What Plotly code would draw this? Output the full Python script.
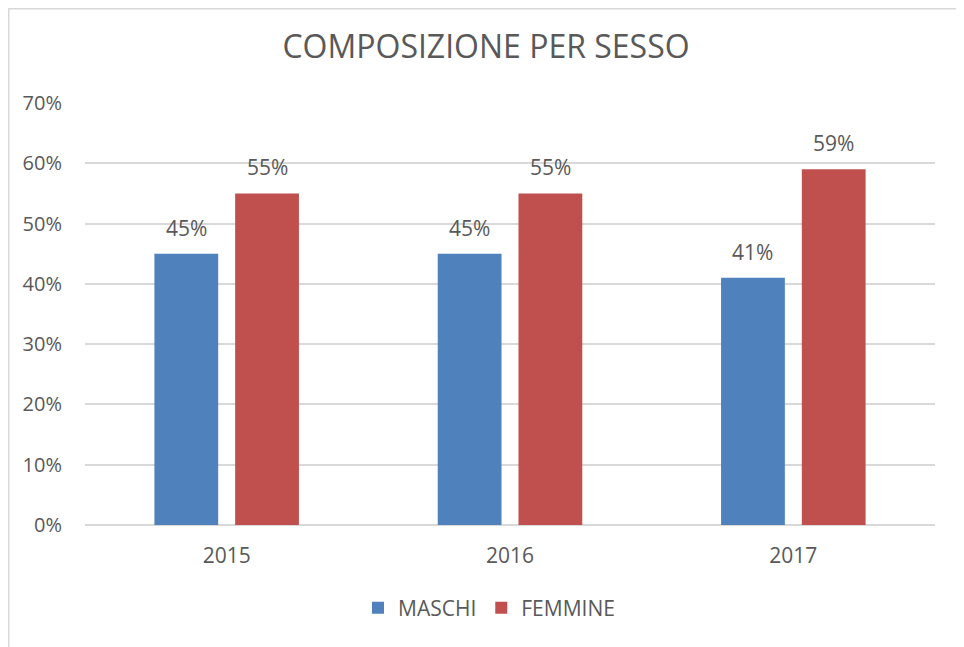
import plotly.graph_objects as go

years = ["2015", "2016", "2017"]
maschi = [0.45, 0.45, 0.41]
femmine = [0.55, 0.55, 0.59]
series_names = ["MASCHI", "FEMMINE"]
series_colors = ["#4F81BD", "#C0504D"]
tick_vals = [0, 0.1, 0.2, 0.3, 0.4, 0.5, 0.6, 0.7]
tick_text = ["0%", "10%", "20%", "30%", "40%", "50%", "60%", "70%"]

font_family = "Open Sans, Liberation Sans, sans-serif"
txt = "#595959"

W, H = 956, 639
ML, MR, MT, MB = 77, 29, 95, 122
PW, PH = W - ML - MR, H - MT - MB
BARGAP, BARGROUPGAP = 0.43, 0.21

fig = go.Figure()
for name, vals, col in zip(series_names, [maschi, femmine], series_colors):
    fig.add_trace(go.Bar(name=name, x=years, y=vals, marker_color=col,
                         marker_line_width=0))

# data labels as annotations (offset per group slot)
cat_px = PW / len(years)
slot_px = cat_px * (1 - BARGAP) / 2
annotations = []
for i, vals in enumerate([maschi, femmine]):
    for ci, v in enumerate(vals):
        annotations.append(dict(x=ci, y=v, xref="x", yref="y", text=f"{v*100:.0f}%",
                                showarrow=False, xshift=(i - 0.5) * slot_px,
                                yanchor="middle", yshift=26,
                                font=dict(size=21, color=txt)))

def px_x(p):
    return (p - ML) / PW

def px_y(p):
    return (MT + PH - p) / PH

border = dict(color="#D9D9D9", width=1.5)
shapes = [
    dict(type="line", xref="paper", yref="paper", x0=px_x(0.8), x1=px_x(0.8), y0=px_y(0), y1=px_y(H), line=border),
    dict(type="line", xref="paper", yref="paper", x0=px_x(0), x1=px_x(954), y0=px_y(0.8), y1=px_y(0.8), line=border),
    dict(type="line", xref="paper", yref="paper", x0=px_x(954), x1=px_x(954), y0=px_y(0), y1=px_y(H), line=border),
]

fig.update_layout(
    width=W, height=H,
    paper_bgcolor="white", plot_bgcolor="white",
    font=dict(family=font_family, color=txt),
    title=dict(text="COMPOSIZIONE PER SESSO", x=0.5, xanchor="center", y=1 - 39 / H, yanchor="middle",
               font=dict(size=32, color=txt)),
    margin=dict(l=ML, r=MR, t=MT, b=MB),
    barmode="group", bargap=BARGAP, bargroupgap=BARGROUPGAP,
    legend=dict(orientation="h", x=px_x(481), xanchor="center", y=px_y(600), yanchor="middle",
                font=dict(size=21, color=txt), itemwidth=30),
    xaxis=dict(type="category", range=[-0.5, len(years) - 0.5], showgrid=False, ticks="",
               tickfont=dict(size=21, color=txt), showline=False, ticklabelstandoff=16),
    yaxis=dict(range=[0, 0.7], tickvals=tick_vals, ticktext=tick_text, gridcolor="#D9D9D9",
               gridwidth=1.5, zeroline=True, zerolinecolor="#D9D9D9", zerolinewidth=1.5,
               tickfont=dict(size=20, color=txt), ticklabelstandoff=22),
    annotations=annotations,
    shapes=shapes,
)

fig.write_html("out.html")
